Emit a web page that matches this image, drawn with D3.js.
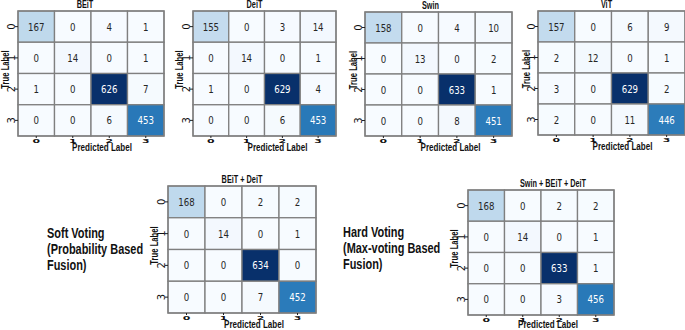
<!DOCTYPE html>
<html><head><meta charset="utf-8">
<script src="https://cdn.jsdelivr.net/npm/d3@7"></script>
<style>
html,body{margin:0;padding:0;background:#fff;}
svg{display:block;}
</style></head><body>
<svg id="c" width="685" height="330"></svg>
<script>
const classes = ["0","1","2","3"];
const titles = ["BEiT","DeiT","Swin","ViT","BEiT + DeiT","Swin + BEiT + DeiT"];
const mBEiT = [[167,0,4,1],[0,14,0,1],[1,0,626,7],[0,0,6,453]];
const mDeiT = [[155,0,3,14],[0,14,0,1],[1,0,629,4],[0,0,6,453]];
const mSwin = [[158,0,4,10],[0,13,0,2],[0,0,633,1],[0,0,8,451]];
const mViT = [[157,0,6,9],[2,12,0,1],[3,0,629,2],[2,0,11,446]];
const mSoft = [[168,0,2,2],[0,14,0,1],[0,0,634,0],[0,0,7,452]];
const mHard = [[168,0,2,2],[0,14,0,1],[0,0,633,1],[0,0,3,456]];
const matrices = [mBEiT,mDeiT,mSwin,mViT,mSoft,mHard];
const sideLabels = [["Soft Voting","(Probability Based","Fusion)"],["Hard Voting","(Max-voting Based","Fusion)"]];

// layout: [x0,y0,x1,y1, trueLabelX, titleShift, predShiftX, predOffsetY]
const layout = [
  [18,11,164,136,  9, -6, 11, 15],
  [193,11,336,136, 183, -10, 13, 15],
  [365,12,512,136, 357, -8, 12, 15],
  [538,11,685,135, 530, -5, 11, 15],
  [168,186,316,313, 158, 0, 12, 15],
  [468,190,614,315, 458, 12, 7, 12.5]
];
const NARROW = 0.73;
const BOLD = "'Liberation Sans', Arial, sans-serif";
const svg = d3.select("#c");

function narrow(sel, x, y, txt, size, anchor, rot){
  return sel.append("text")
    .attr("transform",`translate(${x},${y})${rot?` rotate(${rot})`:""} scale(${NARROW},1)`)
    .attr("font-family",BOLD).attr("font-weight","bold").attr("font-size",size)
    .attr("text-anchor",anchor||"start").attr("fill","#111").text(txt);
}

matrices.forEach((m,i)=>{
  const [x0,y0,x1,y1,tlx,ts,ps,py] = layout[i];
  const g = svg.append("g");
  const x = d3.scaleBand().domain(classes).range([x0,x1]);
  const y = d3.scaleBand().domain(classes).range([y0,y1]);
  const vmax = d3.max(m.flat());
  const col = d3.scaleSequential(d3.interpolateBlues).domain([0,vmax]);
  const cells = [];
  m.forEach((row,r)=>row.forEach((v,c)=>cells.push({r:classes[r],c:classes[c],v})));
  g.selectAll("rect.cell").data(cells).join("rect")
    .attr("x",d=>x(d.c)).attr("y",d=>y(d.r))
    .attr("width",x.bandwidth()).attr("height",y.bandwidth())
    .attr("fill",d=>col(d.v)).attr("stroke","#7f7f7f").attr("stroke-width",1.3);
  g.append("rect").attr("x",x0).attr("y",y0).attr("width",x1-x0).attr("height",y1-y0)
    .attr("fill","none").attr("stroke","#7f7f7f").attr("stroke-width",1.3);
  g.selectAll("text.val").data(cells).join("text")
    .attr("transform",d=>`translate(${x(d.c)+x.bandwidth()/2},${y(d.r)+y.bandwidth()/2+4}) scale(0.82,1)`)
    .attr("text-anchor","middle")
    .attr("font-family","DejaVu Sans, sans-serif").attr("font-size",10.5)
    .attr("fill",d=>d.v/vmax>0.6?"#fff":"#262626").text(d=>d.v);
  classes.forEach(k=>{
    const cy = y(k)+y.bandwidth()/2;
    g.append("line").attr("x1",x0-3).attr("x2",x0).attr("y1",cy).attr("y2",cy).attr("stroke","#222");
    g.append("text").attr("transform",`translate(${x0-3.5},${cy}) rotate(-90)`)
      .attr("text-anchor","middle").attr("font-family","DejaVu Sans, sans-serif").attr("font-size",10)
      .attr("fill","#111").text(k);
    const cx = x(k)+x.bandwidth()/2;
    g.append("line").attr("x1",cx).attr("x2",cx).attr("y1",y1).attr("y2",y1+2).attr("stroke","#222");
    g.append("text").attr("transform",`translate(${cx},${y1+6.5}) scale(1,0.5)`)
      .attr("text-anchor","middle").attr("font-family","DejaVu Sans, sans-serif").attr("font-size",11)
      .attr("font-weight","bold").attr("fill","#111").text(k);
  });
  narrow(g,(x0+x1)/2+ts,y0-3,titles[i],10,"middle");
  narrow(g,(x0+x1)/2+ps,y1+py,"Predicted Label",11,"middle");
  narrow(g,tlx,(y0+y1)/2-4,"True Label",10.5,"middle",-90);
});

const sidePos = [[47,238],[343,237]];
sideLabels.forEach((lines,i)=>{
  lines.forEach((s,j)=>narrow(svg,sidePos[i][0],sidePos[i][1]+j*16,s,15));
});
</script></body></html>
